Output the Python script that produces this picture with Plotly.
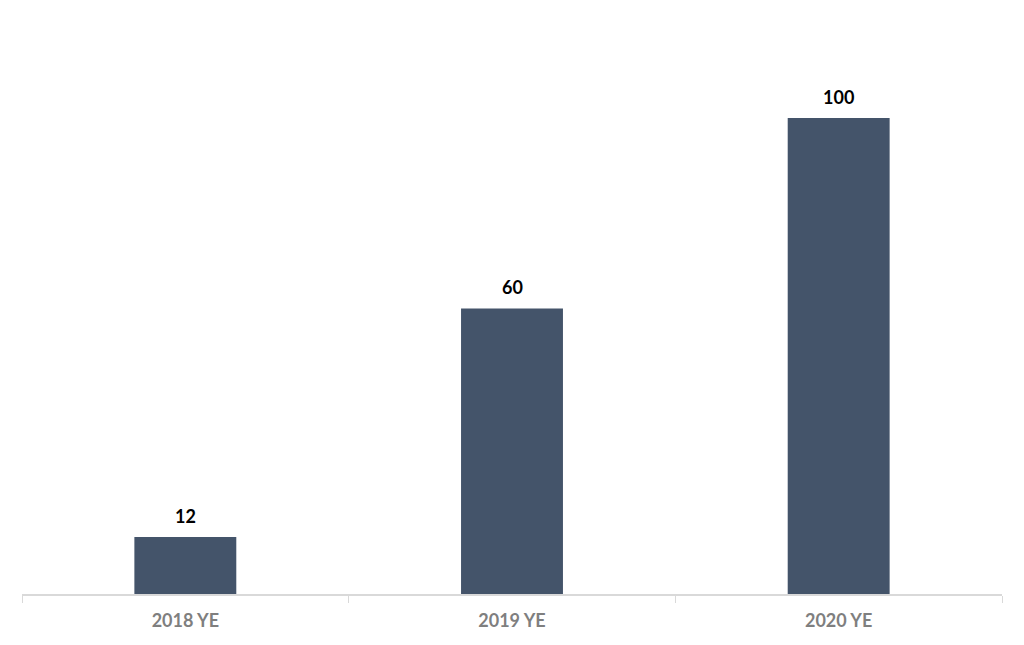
import plotly.graph_objects as go

categories = ["2018 YE", "2019 YE", "2020 YE"]
values = [12, 60, 100]

fig = go.Figure(go.Bar(
    x=categories, y=values,
    marker=dict(color="#44546a", line=dict(width=0)),
    showlegend=False,
))

for c, v in zip(categories, values):
    fig.add_annotation(
        x=c, y=v, text=str(v), showarrow=False,
        yanchor="bottom", yshift=8,
        font=dict(family="Lato, Calibri, sans-serif", size=18, color="#000000", weight="bold"),
    )

fig.update_layout(
    width=1024, height=645,
    margin=dict(l=14, r=30, t=12, b=59),
    paper_bgcolor="white", plot_bgcolor="white",
    bargap=0.688,
    showlegend=False,
    xaxis=dict(
        type="category",
        showline=True, linecolor="#d9d9d9", linewidth=2,
        ticks="outside", tickson="boundaries", ticklen=7, tickcolor="#d9d9d9", tickwidth=1,
        ticklabelstandoff=9,
        tickfont=dict(family="Lato, Calibri, sans-serif", size=18, color="#7f7f7f", weight="bold"),
        showgrid=False,
    ),
    yaxis=dict(range=[0, 120.6], visible=False, showgrid=False, zeroline=False),
)

fig.write_html("out.html")
